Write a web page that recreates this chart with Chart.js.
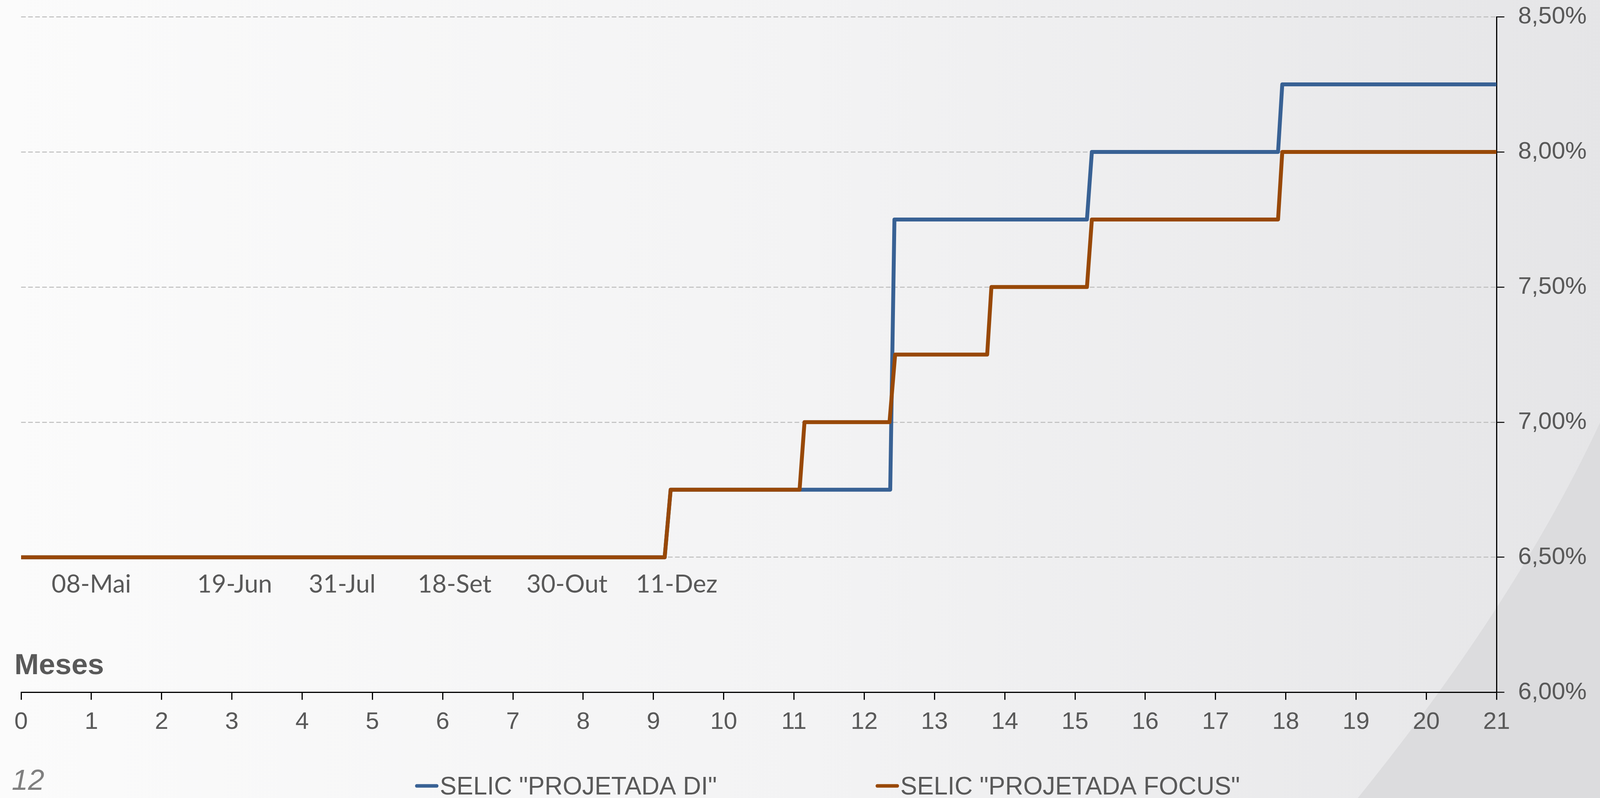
<!DOCTYPE html>
<html>
<head>
<meta charset="utf-8">
<script src="https://cdn.jsdelivr.net/npm/chart.js@4.4.0/dist/chart.umd.min.js"></script>
<style>
  html, body { margin: 0; padding: 0; background: #f4f4f5; overflow: hidden; }
  #wrap { width: 4135px; height: 2043px; }
  #selic { display: block; }
</style>
</head>
<body>
<div id="wrap"><canvas id="selic" width="4135" height="2043"></canvas></div>
<script>
// meses (eixo x) e taxa SELIC (%)
const diMonths = [0, 9.16, 9.245, 12.37, 12.43, 15.17, 15.24, 17.89, 17.95, 21];
const diRates  = [6.5, 6.5, 6.75, 6.75, 7.75, 7.75, 8.0, 8.0, 8.25, 8.25];

const focusMonths = [0, 9.16, 9.245, 11.08, 11.15, 12.36, 12.44, 13.75, 13.81, 15.17, 15.24, 17.89, 17.95, 21];
const focusRates  = [6.5, 6.5, 6.75, 6.75, 7.0, 7.0, 7.25, 7.25, 7.5, 7.5, 7.75, 7.75, 8.0, 8.0];

// datas das reunioes do Copom escritas sob a linha de 6,50%
const copomDates  = ['08-Mai', '19-Jun', '31-Jul', '18-Set', '30-Out', '11-Dez'];
const copomMonths = [1.0, 3.04, 4.57, 6.17, 7.77, 9.33];
const copomLevel  = 6.40;

const seriesNames = ['SELIC "PROJETADA DI"', 'SELIC "PROJETADA FOCUS"'];

const toPoints = (xs, ys) => xs.map((x, i) => ({ x: x, y: ys[i] }));

Chart.defaults.font.family = '"Liberation Sans", Arial, sans-serif';
Chart.defaults.color = '#595959';

const decor = {
    id: 'decor',
    beforeDraw(chart) {
        const { ctx, width, height } = chart;
        ctx.save();
        const g = ctx.createLinearGradient(0, 0, width, 0);
        g.addColorStop(0, '#fbfbfb');
        g.addColorStop(0.5, '#f3f3f4');
        g.addColorStop(1, '#e5e5e7');
        ctx.fillStyle = g;
        ctx.fillRect(0, 0, width, height);
        // faixa curva do fundo do slide
        ctx.beginPath();
        ctx.moveTo(3476, height);
        ctx.quadraticCurveTo(3922, 1491, width, 995);
        ctx.lineTo(width, height);
        ctx.closePath();
        ctx.fillStyle = '#dcdcde';
        ctx.fill();
        ctx.restore();
    },
    afterDatasetsDraw(chart) {
        const { ctx, scales } = chart;
        ctx.save();
        ctx.font = '64px Lato, "Liberation Sans", sans-serif';
        ctx.fillStyle = '#595959';
        ctx.textAlign = 'center';
        ctx.textBaseline = 'middle';
        const y = scales.y.getPixelForValue(copomLevel);
        copomDates.forEach((d, i) => {
            ctx.fillText(d, scales.x.getPixelForValue(copomMonths[i]), y);
        });
        ctx.restore();
    },
    afterDraw(chart) {
        const { ctx } = chart;
        ctx.save();
        ctx.fillStyle = '#595959';
        ctx.textBaseline = 'alphabetic';
        ctx.textAlign = 'left';
        ctx.font = 'bold 75px "Liberation Sans", Arial, sans-serif';
        ctx.fillText('Meses', 37, 1726);

        ctx.fillStyle = '#7f7f7f';
        ctx.font = 'italic 75px "Liberation Sans", Arial, sans-serif';
        ctx.fillText('12', 30, 2022);

        // legenda
        ctx.font = '64px "Liberation Sans", Arial, sans-serif';
        const items = [
            { x: 1067, color: '#386194', text: seriesNames[0] },
            { x: 2246, color: '#984807', text: seriesNames[1] }
        ];
        items.forEach(it => {
            ctx.strokeStyle = it.color;
            ctx.lineWidth = 9;
            ctx.lineCap = 'round';
            ctx.beginPath();
            ctx.moveTo(it.x, 2012);
            ctx.lineTo(it.x + 51, 2012);
            ctx.stroke();
            ctx.fillStyle = '#595959';
            ctx.fillText(it.text, it.x + 59, 2034);
        });
        ctx.restore();
    }
};

new Chart(document.getElementById('selic').getContext('2d'), {
    type: 'scatter',
    data: {
        datasets: [{
            label: seriesNames[0],
            data: toPoints(diMonths, diRates),
            showLine: true,
            borderColor: '#386194',
            backgroundColor: '#386194',
            borderWidth: 10,
            pointRadius: 0,
            borderJoinStyle: 'round',
            order: 1
        }, {
            label: seriesNames[1],
            data: toPoints(focusMonths, focusRates),
            showLine: true,
            borderColor: '#984807',
            backgroundColor: '#984807',
            borderWidth: 10,
            pointRadius: 0,
            borderJoinStyle: 'round',
            order: 0
        }]
    },
    options: {
        responsive: false,
        devicePixelRatio: 1,
        animation: false,
        layout: { padding: { left: 54, right: 38, top: 43, bottom: 137 } },
        plugins: {
            legend: { display: false },
            tooltip: { enabled: false }
        },
        scales: {
            x: {
                type: 'linear',
                position: 'bottom',
                min: 0,
                max: 21,
                ticks: {
                    stepSize: 1,
                    autoSkip: false,
                    maxRotation: 0,
                    padding: 20,
                    font: { size: 62 },
                    color: '#595959'
                },
                grid: {
                    drawOnChartArea: false,
                    drawTicks: true,
                    tickLength: 19,
                    tickColor: '#000000',
                    tickWidth: 3
                },
                border: { display: true, color: '#000000', width: 3 }
            },
            y: {
                type: 'linear',
                position: 'right',
                min: 6,
                max: 8.5,
                ticks: {
                    stepSize: 0.5,
                    padding: 35,
                    font: { size: 62, lineHeight: 0.2 },
                    color: '#595959',
                    callback: function (value) {
                        return value.toFixed(2).replace('.', ',') + '%';
                    }
                },
                grid: {
                    color: '#bdbdbd',
                    lineWidth: 2.5,
                    tickLength: 20,
                    tickColor: '#000000',
                    tickWidth: 2.5,
                    tickBorderDash: []
                },
                border: { display: true, color: '#000000', width: 3, dash: [12, 6] }
            }
        }
    },
    plugins: [decor]
});
</script>
</body>
</html>
